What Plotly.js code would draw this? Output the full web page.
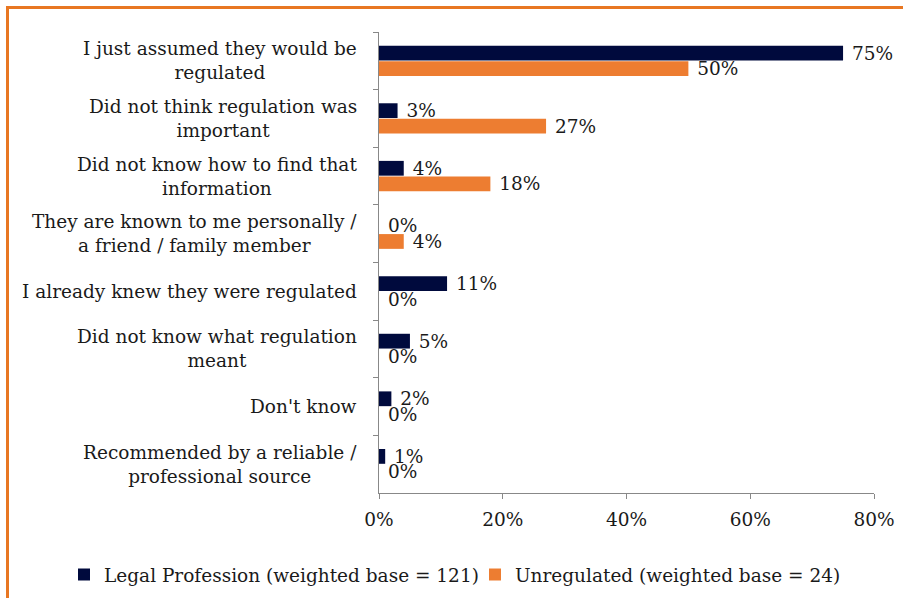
<!DOCTYPE html>
<html><head><meta charset="utf-8">
<script src="https://cdn.plot.ly/plotly-3.0.1.min.js"></script>
<style>html,body{margin:0;padding:0;background:#fff}#c{width:903px;height:598px}
#frame{position:absolute;left:6px;top:6px;width:903px;height:600px;border-left:3px solid #E87722;border-top:3px solid #E87722;pointer-events:none}</style>
</head><body>
<div id="c"></div><div id="frame"></div>
<script>
var categories = [
  "I just assumed they would be<br>regulated",
  "Did not think regulation was<br>important",
  "Did not know how to find that<br>information",
  "They are known to me personally /<br>a friend / family member",
  "I already knew they were regulated",
  "Did not know what regulation<br>meant",
  "Don't know",
  "Recommended by a reliable /<br>professional source"
];
var legalValues = [75, 3, 4, 0, 11, 5, 2, 1];
var unregValues = [50, 27, 18, 4, 0, 0, 0, 0];
var seriesNames = ["Legal Profession (weighted base = 121)", "Unregulated (weighted base = 24)"];
var xTickVals = [0, 20, 40, 60, 80];
var xTickText = ["0%", "20%", "40%", "60%", "80%"];

var FONT = "DejaVu Serif";
var txtFont = {family: FONT, size: 18.5, color: "#1a1a1a"};
function mk(vals, name, color, lg) {
  return {
    type: "bar", orientation: "h", name: name, x: vals, y: categories, legend: lg,
    marker: {color: color, line: {width: 0}},
    text: vals.map(function(v){return " " + v + "%";}),
    textposition: "outside", constraintext: "none", cliponaxis: false,
    textfont: txtFont, hoverinfo: "none"
  };
}
var data = [mk(legalValues, seriesNames[0], "#000A3D", "legend"), mk(unregValues, seriesNames[1], "#ED7D31", "legend2")];
var annotations = categories.map(function(c){
  return {xref: "paper", yref: "y", x: 0, y: c, xanchor: "right", xshift: -20,
    text: c, showarrow: false, align: "center", font: txtFont};
});
function lgd(x) {
  return {orientation: "h", xref: "container", yref: "container", x: x, xanchor: "left",
    y: 0.0385, yanchor: "middle", font: txtFont, bgcolor: "rgba(0,0,0,0)"};
}
var layout = {
  width: 903, height: 598,
  margin: {l: 379, r: 29, t: 32, b: 105, autoexpand: false},
  barmode: "group", bargap: 0.46, bargroupgap: 0.05,
  paper_bgcolor: "#fff", plot_bgcolor: "#fff",
  font: txtFont,
  xaxis: {range: [0, 80], tickvals: xTickVals, ticktext: xTickText, showgrid: false, zeroline: false,
    showline: true, linecolor: "#888", ticks: "outside", ticklen: 5, tickcolor: "#888", tickfont: txtFont,
    ticklabelstandoff: 5, fixedrange: true},
  yaxis: {autorange: "reversed", showticklabels: false, showline: true, linecolor: "#888",
    ticks: "outside", ticklen: 5, tickcolor: "#888", tickson: "boundaries", showgrid: false, fixedrange: true},
  showlegend: true,
  legend: lgd(0.0709),
  legend2: lgd(0.526),
  annotations: annotations
};
Plotly.newPlot("c", data, layout, {displayModeBar: false, staticPlot: true});
</script>
</body></html>
